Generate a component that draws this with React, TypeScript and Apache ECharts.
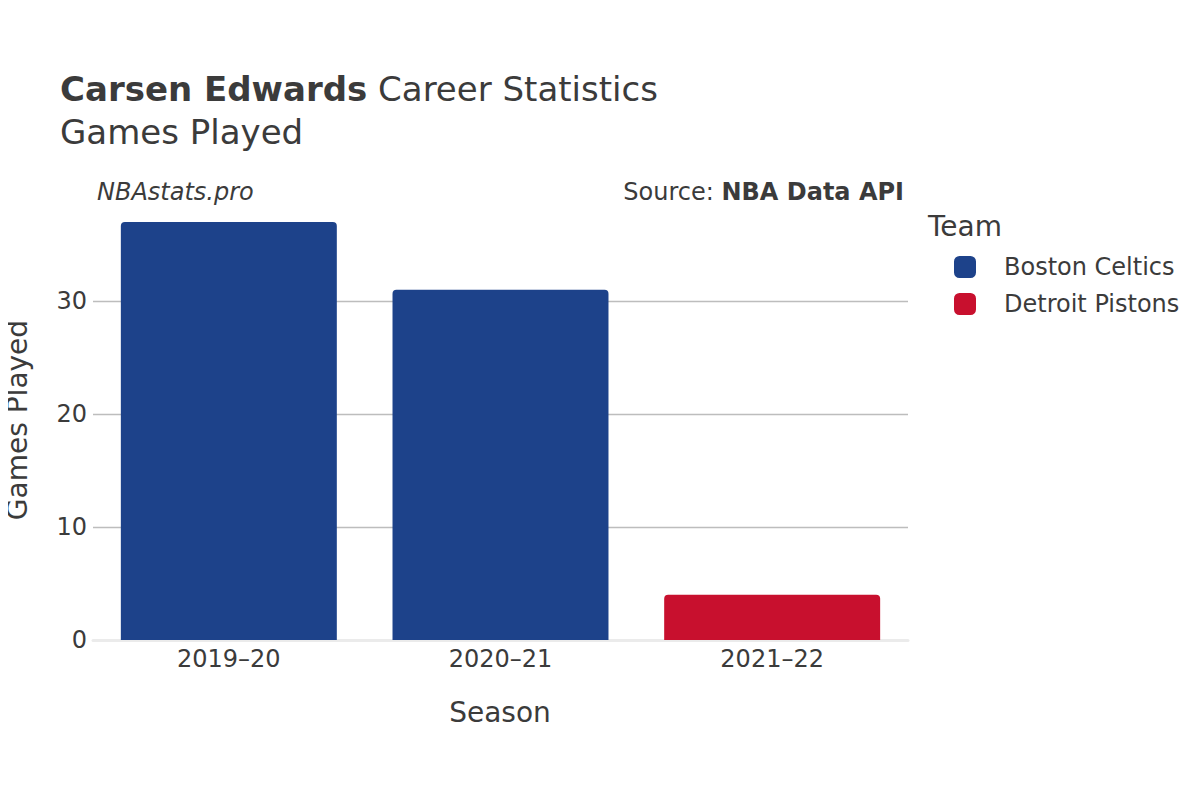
import React, { useEffect, useRef } from "react";
import * as echarts from "echarts";

const seasons = ["2019–20", "2020–21", "2021–22"];
const celticsGames = [37, 31, null];
const pistonsGames = [null, null, 4];
const yTicks = [0, 10, 20, 30];
const teamNames = ["Boston Celtics", "Detroit Pistons"];
const teamColors = ["#1d428a", "#c8102e"];

const FONT = "DejaVu Sans";
const TXT = "#3b3b3b";

export default function App() {
  const ref = useRef<HTMLDivElement>(null);
  useEffect(() => {
    const chart = echarts.init(ref.current!, null, { renderer: "svg" });
    chart.setOption({
      animation: false,
      backgroundColor: "#ffffff",
      textStyle: { fontFamily: FONT },
      grid: { left: 93, right: 292, top: 200, bottom: 160, containLabel: false },
      xAxis: {
        type: "category",
        data: seasons,
        axisLine: { show: true, lineStyle: { color: "#ebebeb", width: 3 } },
        axisTick: { show: false },
        axisLabel: { color: TXT, fontSize: 24, fontFamily: FONT, margin: 7 },
      },
      yAxis: {
        type: "value",
        min: 0,
        max: 38.94,
        interval: 10,
        axisLine: { show: false },
        axisTick: { show: false },
        axisLabel: {
          color: TXT,
          fontSize: 24,
          fontFamily: FONT,
          margin: 6,
          showMaxLabel: false,
          formatter: (v: number) => (yTicks.includes(v) ? String(v) : ""),
        },
        splitLine: {
          show: true,
          showMinLine: false,
          showMaxLine: false,
          lineStyle: { color: "#bdbdbd", width: 1.3 },
        },
      },
      legend: {
        left: 954,
        top: 255,
        padding: 0,
        orient: "vertical",
        itemWidth: 22,
        itemHeight: 22,
        itemGap: 13,
        icon: "roundRect",
        data: teamNames,
        textStyle: { color: TXT, fontSize: 24, fontFamily: FONT, padding: [0, 0, 0, 23] },
      },
      series: [
        {
          name: teamNames[0],
          type: "bar",
          stack: "total",
          data: celticsGames,
          barWidth: "79.5%",
          itemStyle: { color: teamColors[0], borderRadius: [4, 4, 0, 0] },
        },
        {
          name: teamNames[1],
          type: "bar",
          stack: "total",
          data: pistonsGames,
          barWidth: "79.5%",
          itemStyle: { color: teamColors[1], borderRadius: [4, 4, 0, 0] },
        },
      ],
      graphic: [
        {
          type: "text",
          left: 60,
          top: 72,
          style: {
            text: "{b|Carsen Edwards} Career Statistics",
            fill: TXT,
            font: `34px '${FONT}'`,
            rich: { b: { fontWeight: "bold", fontSize: 34, fontFamily: FONT, fill: TXT } },
          },
        },
        {
          type: "text",
          left: 60,
          top: 115,
          style: { text: "Games Played", fill: TXT, font: `34px '${FONT}'` },
        },
        {
          type: "text",
          left: 97,
          top: 180,
          style: { text: "NBAstats.pro", fill: TXT, font: `italic 24px '${FONT}'` },
        },
        {
          type: "text",
          right: 296,
          top: 180,
          style: {
            text: "Source: {b|NBA Data API}",
            fill: TXT,
            font: `24px '${FONT}'`,
            rich: { b: { fontWeight: "bold", fontSize: 24, fontFamily: FONT, fill: TXT } },
          },
        },
        {
          type: "text",
          left: 928,
          top: 212,
          style: { text: "Team", fill: TXT, font: `28px '${FONT}'` },
        },
        {
          type: "text",
          x: 500,
          y: 712,
          style: {
            text: "Season",
            fill: TXT,
            font: `28px '${FONT}'`,
            align: "center",
            verticalAlign: "middle",
          },
        },
        {
          type: "text",
          x: 17,
          y: 420,
          rotation: Math.PI / 2,
          style: {
            text: "Games Played",
            fill: TXT,
            font: `28px '${FONT}'`,
            align: "center",
            verticalAlign: "middle",
          },
        },
      ],
    });
    return () => chart.dispose();
  }, []);
  return <div ref={ref} style={{ width: 1200, height: 800, margin: -8 }} />;
}
